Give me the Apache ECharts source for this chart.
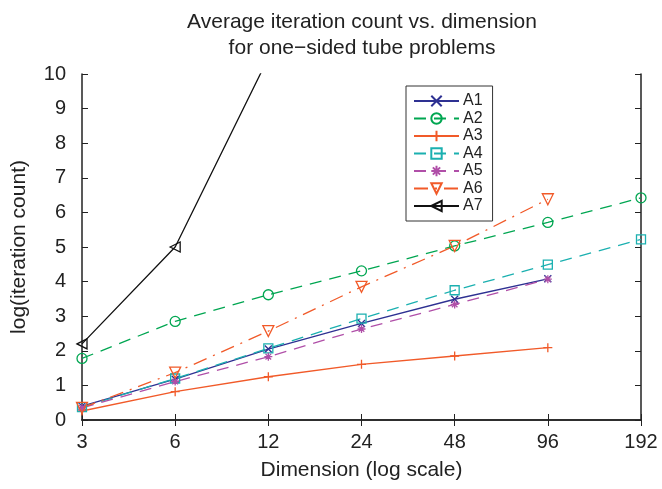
<!DOCTYPE html>
<html>
<head>
<meta charset="utf-8">
<script src="https://cdn.jsdelivr.net/npm/echarts@6/dist/echarts.min.js"></script>
<style>
  html, body { margin: 0; padding: 0; background: #fff; }
  #chart { width: 662px; height: 489px; }
</style>
</head>
<body>
<div id="chart"></div>
<script>
// dimensions (log scale, doubling each step)
const dims = ['3', '6', '12', '24', '48', '96', '192']
const yTicks = [0, 1, 2, 3, 4, 5, 6, 7, 8, 9, 10]

// log(iteration count) per method
const a1 = [0.40, 1.18, 2.05, 2.79, 3.49, 4.08, null]
const a2 = [1.78, 2.85, 3.62, 4.31, 5.03, 5.71, 6.42]
const a3 = [0.26, 0.82, 1.25, 1.61, 1.85, 2.09, null]
const a4 = [0.37, 1.20, 2.07, 2.93, 3.75, 4.49, 5.22]
const a5 = [0.35, 1.11, 1.83, 2.63, 3.34, 4.07, null]
const a6 = [0.35, 1.37, 2.57, 3.85, 5.03, 6.38, null]
const a7 = [2.20, 5.00, 10.47, null, null, null, null]

const font = 'Liberation Sans, Arial, sans-serif'
const crossPath = 'path://M0,0L10,10M10,0L0,10'
const plusPath = 'path://M5,0L5,10M0,5L10,5'
const starPath = 'path://M5,0L5,10M0,5L10,5M1.5,1.5L8.5,8.5M8.5,1.5L1.5,8.5'

function makeSeries(name, data, color, symbol, lineType, size) {
  return {
    name: name,
    type: 'line',
    data: data,
    symbol: symbol,
    symbolSize: size || 10,
    showAllSymbol: true,
    connectNulls: false,
    lineStyle: { color: color, width: 1.3, type: lineType },
    itemStyle: { color: 'rgba(0,0,0,0)', borderColor: color, borderWidth: 1.3 },
    emphasis: { disabled: true },
    z: 3
  }
}

const chart = echarts.init(document.getElementById('chart'))

const options = {
  animation: false,
  title: {
    text: 'Average iteration count vs. dimension\nfor one\u2212sided tube problems',
    left: 357,
    textAlign: 'center',
    top: 4,
    textStyle: { fontFamily: font, fontSize: 21, fontWeight: 'normal', color: '#222', lineHeight: 26 }
  },
  legend: {
    orient: 'vertical',
    left: 406,
    top: 86,
    padding: [7, 10, 7, 7],
    itemWidth: 45,
    itemHeight: 13,
    itemGap: 1.5,
    backgroundColor: '#fff',
    borderColor: '#333',
    borderWidth: 1,
    borderRadius: 0,
    textStyle: { fontFamily: font, fontSize: 16, color: '#222', padding: [0, 0, 0, -1] },
    data: ['A1', 'A2', 'A3', 'A4', 'A5', 'A6', 'A7']
  },
  grid: { left: 82, right: 21, top: 74, bottom: 69 },
  xAxis: [
    {
      type: 'category',
      data: dims,
      boundaryGap: false,
      name: 'Dimension (log scale)',
      nameLocation: 'middle',
      nameGap: 40,
      nameTextStyle: { fontFamily: font, fontSize: 21, color: '#222' },
      axisLine: { lineStyle: { color: '#222', width: 1.5 } },
      axisTick: { inside: true, length: 6, lineStyle: { color: '#222' } },
      axisLabel: { fontFamily: font, fontSize: 20, color: '#222', margin: 12 },
      splitLine: { show: false }
    },
    {
      type: 'category',
      data: dims,
      boundaryGap: false,
      position: 'top',
      axisLine: { lineStyle: { color: '#222', width: 1.5 } },
      axisTick: { inside: true, length: 6, lineStyle: { color: '#222' } },
      axisLabel: { show: false }
    }
  ],
  yAxis: [
    {
      type: 'value',
      min: 0,
      max: 10,
      interval: 1,
      name: 'log(iteration count)',
      nameLocation: 'middle',
      nameGap: 52,
      nameTextStyle: { fontFamily: font, fontSize: 21, color: '#222' },
      axisLine: { show: true, lineStyle: { color: '#222', width: 1.5 } },
      axisTick: { show: true, inside: true, length: 6, lineStyle: { color: '#222' } },
      axisLabel: {
        fontFamily: font, fontSize: 20, color: '#222', margin: 16,
        formatter: v => yTicks.includes(v) ? String(v) : ''
      },
      splitLine: { show: false }
    },
    {
      type: 'value',
      min: 0,
      max: 10,
      interval: 1,
      position: 'right',
      axisLine: { show: true, lineStyle: { color: '#222', width: 1.5 } },
      axisTick: { show: true, inside: true, length: 6, lineStyle: { color: '#222' } },
      axisLabel: { show: false },
      splitLine: { show: false }
    }
  ],
  series: [
    makeSeries('A1', a1, '#2e3192', crossPath, 'solid', 7),
    makeSeries('A2', a2, '#00a651', 'circle', [12, 8], 10),
    makeSeries('A3', a3, '#f15a29', plusPath, 'solid', 9),
    makeSeries('A4', a4, '#1bb0b0', 'rect', [12, 8], 9),
    makeSeries('A5', a5, '#b04fa8', starPath, [12, 8], 8),
    makeSeries('A6', a6, '#f15a29', 'path://M0,0L10,0L5,9Z', [14, 7, 2, 7], 11),
    makeSeries('A7', a7, '#111', 'path://M0,5L10,0L10,10Z', 'solid', 10)
  ]
}

chart.setOption(options)
</script>
</body>
</html>
